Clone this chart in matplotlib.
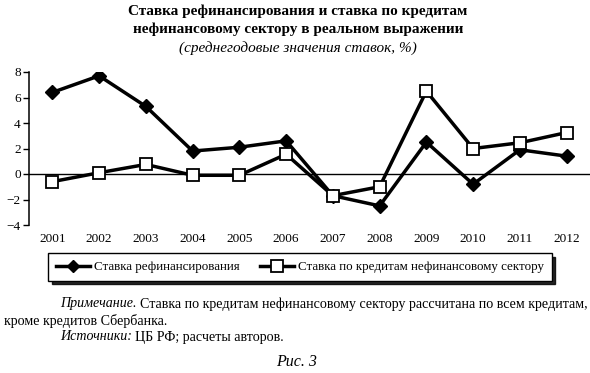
import numpy as np
import matplotlib
matplotlib.use('Agg')
import matplotlib.pyplot as plt
from matplotlib.lines import Line2D

plt.rcParams['font.family'] = ['Liberation Serif', 'DejaVu Serif']

years = [2001, 2002, 2003, 2004, 2005, 2006, 2007, 2008, 2009, 2010, 2011, 2012]
refi = [6.4, 7.7, 5.3, 1.8, 2.1, 2.6, -1.7, -2.5, 2.5, -0.8, 1.9, 1.4]
loans = [-0.6, 0.1, 0.75, -0.1, -0.1, 1.55, -1.7, -1.0, 6.5, 2.0, 2.45, 3.25]
yticks = [-4, -2, 0, 2, 4, 6, 8]

name_refi = 'Ставка рефинансирования'
name_loans = 'Ставка по кредитам нефинансовому сектору'

W, H = 590, 373
fig = plt.figure(figsize=(W / 100, H / 100), dpi=100)

def fx(px):
    return px / W

def fy(py):
    return 1 - py / H

# title
fig.text(0.505, fy(11), 'Ставка рефинансирования и ставка по кредитам',
         ha='center', va='center', fontsize=11, fontweight='bold')
fig.text(0.505, fy(29), 'нефинансовому сектору в реальном выражении',
         ha='center', va='center', fontsize=11, fontweight='bold')
fig.text(0.505, fy(48), '(среднегодовые значения ставок, %)',
         ha='center', va='center', fontsize=11, style='italic')

ax = fig.add_axes([fx(29), fy(225), fx(590) - fx(29), fy(72) - fy(225)])
ax.plot(years, refi, color='black', lw=2.5, marker='D', ms=7,
        mfc='black', mec='black', zorder=3)
ax.plot(years, loans, color='black', lw=2.5, marker='s', ms=8.5,
        mfc='white', mec='black', mew=1.3, zorder=3)
ax.axhline(0, color='black', lw=1.0, zorder=1)

ax.set_xlim(2000.5, 2012.5)
ax.set_ylim(-4, 8)
ax.set_xticks(years)
ax.set_xticklabels([str(y) for y in years])
ax.set_yticks(yticks)
ax.set_yticklabels(['\u2212' + str(-t) if t < 0 else str(t) for t in yticks])
for s in ['top', 'right', 'bottom']:
    ax.spines[s].set_visible(False)
ax.spines['left'].set_linewidth(1.1)
ax.tick_params(axis='x', length=0, pad=6, labelsize=9.5)
ax.tick_params(axis='y', direction='out', length=4, width=1, pad=2, labelsize=9.5)

handles = [
    Line2D([], [], color='black', lw=2.5, marker='D', ms=6.5, mfc='black'),
    Line2D([], [], color='black', lw=2.5, marker='s', ms=8, mfc='white', mew=1.3),
]
leg = fig.legend(handles, [name_refi, name_loans], loc='center',
                 bbox_to_anchor=(fx(300), fy(267)), ncol=2, fontsize=9.4,
                 frameon=True, fancybox=False, edgecolor='black',
                 handlelength=2.6, handletextpad=0.3, columnspacing=1.6,
                 borderpad=0.6,
                 shadow={'ox': 2.5, 'oy': -2.5, 'color': 'black', 'alpha': 0.85})
leg.get_frame().set_linewidth(1.0)

# notes
fig.canvas.draw()
r = fig.canvas.get_renderer()

def run(x, y, parts, size=10.1):
    for txt, st in parts:
        t = fig.text(x, y, txt, ha='left', va='center', fontsize=size, style=st)
        bb = t.get_window_extent(r)
        x = bb.x1 / W + 3 / W

run(fx(60), fy(304), [('Примечание.', 'italic'),
    ('Ставка по кредитам нефинансовому сектору рассчитана по всем кредитам,', 'normal')])
run(fx(4), fy(321), [('кроме кредитов Сбербанка.', 'normal')])
run(fx(60), fy(337), [('Источники:', 'italic'), ('ЦБ РФ; расчеты авторов.', 'normal')])
fig.text(fx(297), fy(362), 'Рис. 3', ha='center', va='center',
         fontsize=11.5, style='italic')

fig.savefig('out.png', dpi=100)
